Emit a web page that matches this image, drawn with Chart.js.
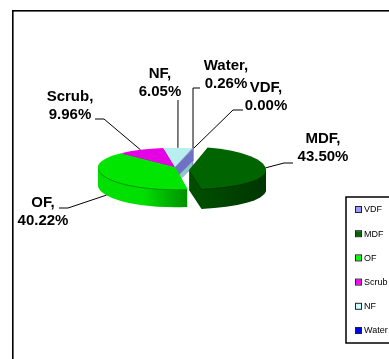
<!DOCTYPE html>
<html>
<head>
<meta charset="utf-8">
<style>
  html, body { margin: 0; padding: 0; background: #fff; overflow: hidden; }
  canvas { display: block; }
</style>
<script src="https://cdn.jsdelivr.net/npm/chart.js@4/dist/chart.umd.min.js"></script>
</head>
<body>
<canvas id="pieChart" width="389" height="359"></canvas>
<script>
// Values as printed on the chart's labels
var categories = ['VDF', 'MDF', 'OF', 'Scrub', 'NF', 'Water'];
var shares = [0.00, 43.50, 40.22, 9.96, 6.05, 0.26];

// Water is under a degree wide, in the reference it does not read as blue on the pie
var topColors = ['#9999ff', '#006400', '#00e600', '#e600e6', '#b8eeee', '#8a8ad0'];
// Wall shading, lit side first (left to right across the slice)
var sideShades = [
  ['#7070c4', '#7070c4'],
  ['#004c00', '#003000'],
  ['#00e000', '#00e000', '#009000'],
  ['#b000b0', '#b000b0'],
  ['#90c8c8', '#90c8c8'],
  ['#7070c4', '#7070c4']
];
var rimColors = ['#7070c4', '#003400', '#009400', '#b000b0', '#90c8c8', '#7070c4'];
var legendColors = ['#9999ff', '#006600', '#00ff00', '#ff00ff', '#ccffff', '#0000ff'];

// Pie tilt per slice. MDF sits nearer the viewer, so it opens up differently.
var farTilt = [0.25, 0.30, 0.25, 0.25, 0.25, 0.25];
var nearTilt = [0.29, 0.25, 0.29, 0.29, 0.29, 0.29];
var sliceDepth = [12, 20, 18, 18, 18, 18];
// Only MDF is pulled out of the pie
var explodeX = [0, 14, 0, 0, 0, 0];
var explodeY = [0, 3, 0, 0, 0, 0];

// Label centre and the elbow(s) of each leader line, same order as categories
var labelCentres = [[266, 88], [323, 139], [43, 203], [70, 97], [160, 74], [226, 66]];
var leaderElbows = [
  [[233, 110], [243, 110]],
  [[284, 163], [293, 163]],
  [[68, 208], [59, 208]],
  [[104, 119], [95, 119]],
  [[178, 100]],
  [[193, 88], [200, 88]]
];

function tiltY(y, centreY, i) {
  return centreY + (y - centreY) * (y < centreY ? farTilt[i] : nearTilt[i]);
}

// Runs arc.draw once per half of the pie, with that half's squash applied
function drawTilted(ctx, arc, i, drop) {
  var centreY = arc.y;
  var shiftY = explodeY[i] + drop;
  [[0, centreY, farTilt[i]], [centreY, 359, nearTilt[i]]].forEach(function(h) {
    ctx.save();
    ctx.beginPath();
    ctx.rect(0, h[0] + shiftY, 389, h[1] - h[0]);
    ctx.clip();
    ctx.translate(explodeX[i], centreY + shiftY);
    ctx.scale(1, h[2]);
    ctx.translate(0, -centreY);
    arc.draw(ctx);
    ctx.restore();
  });
}

function wallFill(ctx, arc, i) {
  var shades = sideShades[i];
  var grad = ctx.createLinearGradient(arc.x + explodeX[i] - (i === 1 ? 0 : arc.outerRadius), 0,
    arc.x + explodeX[i] + (i === 1 ? arc.outerRadius : 12), 0);
  shades.forEach(function(c, n) { grad.addColorStop(n / (shades.length - 1), c); });
  return grad;
}

var tiltedPie = {
  id: 'tiltedPie',
  beforeDraw: function(chart) {
    var ctx = chart.ctx;
    ctx.save();
    ctx.fillStyle = '#fff';
    ctx.fillRect(0, 0, 389, 359);
    // Plot frame, runs off the right and bottom of the picture
    ctx.fillStyle = '#000';
    ctx.fillRect(12, 10, 377, 1.6);
    ctx.fillRect(12, 10, 1.6, 349);
    ctx.restore();
  },
  beforeDatasetsDraw: function(chart) {
    var ctx = chart.ctx;
    var arcs = chart.getDatasetMeta(0).data;

    // Side walls, back slices first so the near ones cover them
    [5, 4, 3, 0, 2, 1].forEach(function(i) {
      var arc = arcs[i];
      if (shares[i] === 0) {
        // A zero slice has no area, only its cut face shows
        var rimX = arc.x + Math.cos(arc.startAngle) * arc.outerRadius;
        var rimY = tiltY(arc.y + Math.sin(arc.startAngle) * arc.outerRadius, arc.y, i);
        ctx.save();
        ctx.fillStyle = sideShades[i][0];
        ctx.beginPath();
        ctx.moveTo(arc.x, arc.y);
        ctx.lineTo(rimX, rimY);
        ctx.lineTo(rimX, rimY + sliceDepth[i]);
        ctx.lineTo(arc.x, arc.y + sliceDepth[i]);
        ctx.closePath();
        ctx.fill();
        ctx.restore();
        return;
      }
      var topOptions = arc.options;
      arc.options = Object.assign({}, topOptions, { backgroundColor: wallFill(ctx, arc, i) });
      for (var d = sliceDepth[i]; d > 1; d--) {
        drawTilted(ctx, arc, i, d);
      }
      // Darker line along the top edge of the wall
      arc.options = Object.assign({}, topOptions, { backgroundColor: rimColors[i] });
      drawTilted(ctx, arc, i, 1);
      arc.options = topOptions;
    });

    // Top faces
    arcs.forEach(function(arc, i) {
      drawTilted(ctx, arc, i, 0);
    });
    return false;
  },
  afterDraw: function(chart) {
    var ctx = chart.ctx;
    var arcs = chart.getDatasetMeta(0).data;

    ctx.save();
    ctx.strokeStyle = '#000';
    ctx.lineWidth = 1;
    arcs.forEach(function(arc, i) {
      var mid = (arc.startAngle + arc.endAngle) / 2;
      var x = arc.x + explodeX[i] + Math.cos(mid) * arc.outerRadius;
      var y = tiltY(arc.y + Math.sin(mid) * arc.outerRadius, arc.y, i);
      if (Math.sin(mid) > 0.2) y += sliceDepth[i];
      ctx.beginPath();
      ctx.moveTo(x, y);
      leaderElbows[i].forEach(function(p) { ctx.lineTo(p[0], p[1]); });
      ctx.stroke();
    });

    ctx.fillStyle = '#000';
    ctx.font = 'bold 15px "Liberation Sans", Arial, sans-serif';
    ctx.textAlign = 'center';
    ctx.textBaseline = 'middle';
    categories.forEach(function(name, i) {
      var c = labelCentres[i];
      ctx.fillText(name + ',', c[0], c[1]);
      ctx.fillText(shares[i].toFixed(2) + '%', c[0], c[1] + 18);
    });

    // Legend box, clipped by the right edge like the original
    ctx.fillStyle = '#fff';
    ctx.fillRect(346, 197, 60, 146);
    ctx.lineWidth = 1.5;
    ctx.strokeRect(346, 197, 60, 146);
    ctx.font = '9px "Liberation Sans", Arial, sans-serif';
    ctx.textAlign = 'left';
    categories.forEach(function(name, i) {
      var y = 210 + i * 24.2;
      ctx.fillStyle = legendColors[i];
      ctx.fillRect(356, y - 3, 5, 5);
      ctx.lineWidth = 1;
      ctx.strokeStyle = '#222';
      ctx.strokeRect(355.5, y - 3.5, 6, 6);
      ctx.fillStyle = '#000';
      ctx.fillText(name, 364, y);
    });
    ctx.restore();
  }
};

var pieChart = new Chart(document.getElementById('pieChart').getContext('2d'), {
  type: 'pie',
  plugins: [tiltedPie],
  data: {
    labels: categories,
    datasets: [{
      data: shares,
      backgroundColor: topColors,
      borderWidth: 0
    }]
  },
  options: {
    responsive: false,
    animation: false,
    events: [],
    radius: 77,
    rotation: 14,
    layout: { padding: { left: 0, right: 39, top: 0, bottom: 25 } },
    plugins: {
      legend: { display: false },
      tooltip: { enabled: false }
    }
  }
});
</script>
</body>
</html>
